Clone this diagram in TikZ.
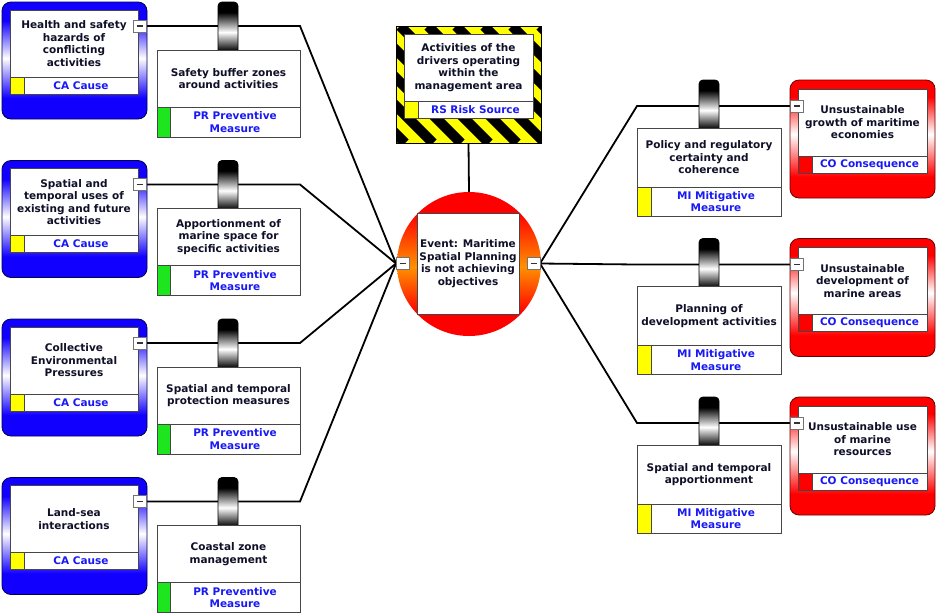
\documentclass[tikz,border=0pt]{standalone}
\usepackage{fontspec}
\setmainfont{DejaVu Sans}
\usetikzlibrary{calc}
\pgfdeclarelayer{back}
\pgfdeclarelayer{bg}
\pgfsetlayers{back,bg,main}
\definecolor{txt}{RGB}{15,15,40}
\definecolor{lbl}{RGB}{25,25,245}
\definecolor{boxline}{RGB}{70,70,70}
\definecolor{cblue}{RGB}{18,0,255}
\definecolor{cred}{RGB}{255,0,0}
\definecolor{corange}{RGB}{255,145,0}
\definecolor{cyel}{RGB}{255,255,0}
\definecolor{cgreen}{RGB}{30,230,30}
\pgfdeclareverticalshading{causesh}{100bp}{color(0bp)=(cblue); color(34bp)=(cblue); color(51bp)=(white); color(67bp)=(cblue); color(100bp)=(cblue)}
\pgfdeclareverticalshading{conssh}{100bp}{color(0bp)=(cred); color(34bp)=(cred); color(52bp)=(white); color(68bp)=(cred); color(100bp)=(cred)}
\pgfdeclareverticalshading{eventsh}{100bp}{color(0bp)=(cred); color(33bp)=(cred); color(49bp)=(corange); color(67.5bp)=(cred); color(100bp)=(cred)}
\pgfdeclareverticalshading{cylsh}{100bp}{color(0bp)=(black); color(28bp)=(black); color(46bp)=(white); color(65bp)=(black); color(100bp)=(black)}
\tikzset{
  every node/.style={inner sep=0pt, outer sep=0pt},
  base/.style={rectangle, font=\fontsize{10.5}{12.5}\selectfont\bfseries, align=center},
  txtbox/.style={base, draw=boxline, line width=0.8pt, fill=white, text=txt},
  lblbox/.style={base, draw=boxline, line width=0.8pt, fill=white, text=lbl},
  sq/.style={rectangle, draw=boxline, line width=0.8pt, minimum width=14pt},
  causeouter/.style={rectangle, rounded corners=9pt, minimum width=145pt, minimum height=117pt, draw=black!70!blue, line width=0.8pt, shading=causesh},
  consouter/.style={rectangle, rounded corners=9pt, minimum width=145pt, minimum height=118pt, draw=black!60!red, line width=0.8pt, shading=conssh},
  cyl/.style={rectangle, rounded corners=4pt, minimum width=20pt, minimum height=52pt, draw=black, line width=0.8pt, shading=cylsh},
  btn/.style={rectangle, minimum width=13pt, minimum height=12pt, fill=white, draw=black!55, line width=0.8pt, text=black!80},
  conn/.style={draw=black, line width=1.8pt},
}
\newcommand\causeblock[4]{%
  \coordinate (#1k) at (300,{#2+24});
  \node[cyl] (#1c) at (228,{#2+26}) {};
  \node[txtbox, minimum width=143pt, minimum height=57pt] (#1t) at (228.5,{#2+76.5}) {#4};
  \node[sq, fill=cgreen, minimum width=13pt, minimum height=30pt] (#1g) at (163.5,{#2+120}) {};
  \node[lblbox, minimum width=130pt, minimum height=30pt] (#1p) at (235,{#2+120}) {PR Preventive\\Measure};
  \node[causeouter] (#1o) at (74.5,{#2+58.5}) {};
  \node[txtbox, minimum width=128pt, minimum height=67pt] (#1x) at (74,{#2+41.5}) {#3};
  \node[sq, fill=cyel, minimum height=17pt] (#1y) at (17,{#2+83.5}) {};
  \node[lblbox, minimum width=114pt, minimum height=17pt] (#1l) at (81,{#2+83.5}) {CA Cause};
  \node[btn] (#1b) at (139.5,{#2+24}) {\rule{6pt}{1.1pt}};
  \begin{pgfonlayer}{bg}
    \draw[conn] (#1b.center) -- (#1k) -- (evL);
  \end{pgfonlayer}
}
\newcommand\consblock[4]{%
  \coordinate (#1k) at (637,{#2+26});
  \node[cyl] (#1c) at (709,{#2+26}) {};
  \node[txtbox, minimum width=144pt, minimum height=59pt] (#1t) at (709,{#2+77.5}) {#3};
  \node[sq, fill=cyel, minimum height=29pt] (#1g) at (644,{#2+121.5}) {};
  \node[lblbox, minimum width=130pt, minimum height=29pt] (#1p) at (716,{#2+121.5}) {MI Mitigative\\Measure};
  \node[consouter] (#1o) at (862.5,{#2+59}) {};
  \node[txtbox, minimum width=129pt, minimum height=67pt] (#1x) at (862.5,{#2+42.5}) {#4};
  \node[sq, fill=cred, minimum height=17pt] (#1y) at (805,{#2+84.5}) {};
  \node[lblbox, minimum width=115pt, minimum height=17pt] (#1l) at (869.5,{#2+84.5}) {CO Consequence};
  \node[btn] (#1b) at (797,{#2+26}) {\rule{6pt}{1.1pt}};
  \begin{pgfonlayer}{bg}
    \draw[conn] (evR) -- (#1k) -- (#1b.center);
  \end{pgfonlayer}
}
\begin{document}
\begin{tikzpicture}[x=1pt,y=-1pt]
\begin{pgfonlayer}{back}
  \fill[white] (0,0) rectangle (936,614);
\end{pgfonlayer}
\useasboundingbox (0,0) rectangle (936,614);
% event
\node[circle, minimum size=144pt, shading=eventsh] (ev) at (469,264) {};
\node[txtbox, minimum width=102pt, minimum height=101pt] (evt) at (468,263.5) {Event: Maritime\\Spatial Planning\\is not achieving\\objectives};
\node[btn] (evbl) at (402.5,263.5) {\rule{6pt}{1.1pt}};
\node[btn] (evbr) at (533.5,263.5) {\rule{6pt}{1.1pt}};
\coordinate (evL) at (evbl.west);
\coordinate (evR) at (evbr.east);
% risk source
\begin{scope}
  \clip (396,26) rectangle (541,143);
  \fill[cyel] (396,26) rectangle (541,143);
  \foreach \i in {-6,...,6} \draw[line width=10pt, black] ({400+\i*28},26) -- ++(117,117);
\end{scope}
\node[draw=black, line width=0.8pt, minimum width=145pt, minimum height=117pt] (rs) at (468.5,84.5) {};
\node[txtbox, minimum width=129pt, minimum height=67pt] (rst) at (468.5,67.5) {Activities of the\\drivers operating\\within the\\management area};
\node[sq, fill=cyel, minimum height=17pt] (rsy) at (411,109.5) {};
\node[lblbox, minimum width=115pt, minimum height=17pt] (rsl) at (475.5,109.5) {RS Risk Source};
\begin{pgfonlayer}{bg}
  \draw[conn] (rs.south) -- (ev.north);
\end{pgfonlayer}
% causes
\causeblock{ca}{2}{Health and safety\\hazards of\\conflicting\\activities}{Safety buffer zones\\around activities}
\causeblock{cb}{160.5}{Spatial and\\temporal uses of\\existing and future\\activities}{Apportionment of\\marine space for\\specific activities}
\causeblock{cc}{319}{Collective\\Environmental\\Pressures}{Spatial and temporal\\protection measures}
\causeblock{cd}{477.5}{Land-sea\\interactions}{Coastal zone\\management}
% consequences
\consblock{oa}{80}{Policy and regulatory\\certainty and\\coherence}{Unsustainable\\growth of maritime\\economies}
\consblock{ob}{238.5}{Planning of\\development activities}{Unsustainable\\development of\\marine areas}
\consblock{oc}{397}{Spatial and temporal\\apportionment}{Unsustainable use\\of marine\\resources}
\end{tikzpicture}
\end{document}
